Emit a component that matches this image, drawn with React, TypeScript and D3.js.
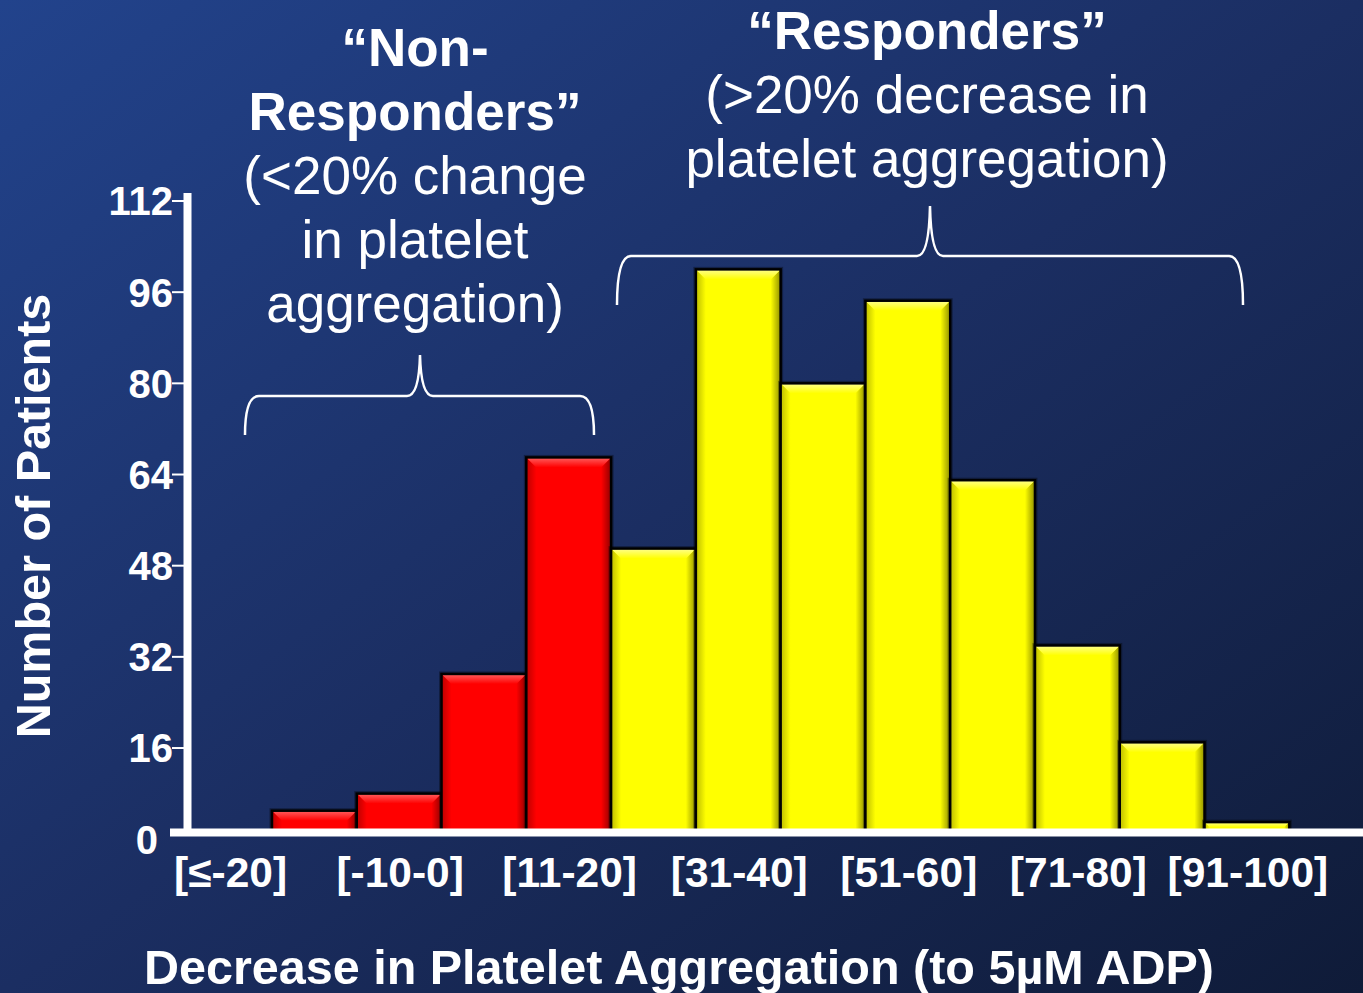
import React from "react";
import * as d3 from "d3";

const categories = [
  "[≤-20]", "[-19--11]", "[-10-0]", "[1-10]", "[11-20]", "[21-30]", "[31-40]",
  "[41-50]", "[51-60]", "[61-70]", "[71-80]", "[81-90]", "[91-100]",
];
const patients = [0, 5, 8, 29, 67, 51, 100, 80, 94.5, 63, 34, 17, 3];
const nonResponderBins = ["[≤-20]", "[-19--11]", "[-10-0]", "[1-10]", "[11-20]"];
const xTickLabels = ["[≤-20]", "[-10-0]", "[11-20]", "[31-40]", "[51-60]", "[71-80]", "[91-100]"];
const yTicks = [0, 16, 32, 48, 64, 80, 96, 112];
const leftNote = ["“Non-", "Responders”", "(<20% change", "in platelet", "aggregation)"];
const rightNote = ["“Responders”", "(>20% decrease in", "platelet aggregation)"];

const W = 1363;
const H = 993;
const FONT = "'Liberation Sans', Arial, Helvetica, sans-serif";

export default function App() {
  const x = d3.scaleBand<string>().domain(categories).range([187.2, 1289.3]).padding(0);
  const y = d3.scaleLinear().domain([0, 112]).range([839.2, 201]);
  const axisY = 832.5;
  const bev = 10;

  const bracePath = (x0: number, x1: number, yb: number, yh: number, yt: number, xm: number) => {
    const r = 14;
    return `M${x0},${yb} Q${x0},${yh} ${x0 + r},${yh} L${xm - 13},${yh} Q${xm - 1},${yh} ${xm},${yt} Q${xm + 1},${yh} ${xm + 13},${yh} L${x1 - r},${yh} Q${x1},${yh} ${x1},${yb}`;
  };

  return (
    <svg
      width={W}
      height={H}
      style={{ position: "absolute", left: 0, top: 0, display: "block" }}
      fontFamily={FONT}
    >
      <defs>
        <linearGradient id="bg" x1="0" y1="0" x2="1" y2="1">
          <stop offset="0" stopColor="#22438c" />
          <stop offset="0.5" stopColor="#1b2e62" />
          <stop offset="1" stopColor="#0f1b38" />
        </linearGradient>
        {[
          ["red", "#ff0000", "#ff6060", "#900000"],
          ["yel", "#ffff00", "#ffff90", "#909000"],
        ].map(([id, base, light, dark]) => (
          <React.Fragment key={id}>
            <linearGradient id={`${id}-l`} x1="0" y1="0" x2="1" y2="0">
              <stop offset="0" stopColor={dark} />
              <stop offset="1" stopColor={base} />
            </linearGradient>
            <linearGradient id={`${id}-r`} x1="0" y1="0" x2="1" y2="0">
              <stop offset="0" stopColor={base} />
              <stop offset="1" stopColor={dark} />
            </linearGradient>
            <linearGradient id={`${id}-t`} x1="0" y1="0" x2="0" y2="1">
              <stop offset="0" stopColor={light} />
              <stop offset="1" stopColor={base} />
            </linearGradient>
          </React.Fragment>
        ))}
      </defs>
      <rect x={0} y={0} width={W} height={H} fill="url(#bg)" />

      {/* bars */}
      {categories.map((c, i) => {
        const v = patients[i];
        if (v <= 0) return null;
        const x0 = x(c)!;
        const x1 = x0 + x.bandwidth();
        const y0 = y(v);
        const y1 = axisY;
        const id = nonResponderBins.includes(c) ? "red" : "yel";
        const base = id === "red" ? "#ff0000" : "#ffff00";
        const b = Math.min(bev, (y1 - y0) / 2);
        return (
          <g key={c}>
            <rect x={x0} y={y0} width={x1 - x0} height={y1 - y0} fill="none" stroke="#000" strokeOpacity={0.35} strokeWidth={5} />
            <rect x={x0} y={y0} width={x1 - x0} height={y1 - y0} fill={base} />
            <polygon points={`${x0},${y0} ${x0 + b},${y0 + b} ${x0 + b},${y1} ${x0},${y1}`} fill={`url(#${id}-l)`} opacity={0.6} />
            <polygon points={`${x1},${y0} ${x1 - b},${y0 + b} ${x1 - b},${y1} ${x1},${y1}`} fill={`url(#${id}-r)`} />
            <polygon points={`${x0},${y0} ${x1},${y0} ${x1 - b},${y0 + b} ${x0 + b},${y0 + b}`} fill={`url(#${id}-t)`} />
            <rect x={x0} y={y0} width={x1 - x0} height={y1 - y0} fill="none" stroke="#000" strokeWidth={2.5} />
          </g>
        );
      })}

      {/* y axis */}
      <line x1={187.5} x2={187.5} y1={193} y2={axisY} stroke="#fff" strokeWidth={8} />
      {yTicks.map((t) => (
        <g key={t}>
          {t > 0 && <line x1={172} x2={184} y1={y(t)} y2={y(t)} stroke="#fff" strokeWidth={2} />}
          <text
            x={t > 0 ? 173 : 158}
            y={y(t)}
            dy="0.36em"
            textAnchor="end"
            fontWeight="bold"
            fontSize={40}
            fill="#fff"
          >
            {t}
          </text>
        </g>
      ))}

      {/* x axis */}
      <line x1={170} x2={W} y1={axisY} y2={axisY} stroke="#fff" strokeWidth={8} />
      {xTickLabels.map((c) => (
        <text
          key={c}
          x={x(c)! + x.bandwidth() / 2 + 1}
          y={887}
          textAnchor="middle"
          fontWeight="bold"
          fontSize={42.5}
          fill="#fff"
        >
          {c}
        </text>
      ))}

      <text x={679} y={984} textAnchor="middle" fontWeight="bold" fontSize={48.5} fill="#fff">
        Decrease in Platelet Aggregation (to 5µM ADP)
      </text>
      <text
        transform="translate(50,516) rotate(-90)"
        textAnchor="middle"
        fontWeight="bold"
        fontSize={48.5}
        fill="#fff"
      >
        Number of Patients
      </text>

      {/* annotations */}
      {leftNote.map((s, i) => (
        <text
          key={s}
          x={415}
          y={66 + i * 64}
          textAnchor="middle"
          fontWeight={i < 2 ? "bold" : "normal"}
          fontSize={53}
          fill="#fff"
        >
          {s}
        </text>
      ))}
      {rightNote.map((s, i) => (
        <text
          key={s}
          x={927}
          y={49 + i * 64}
          textAnchor="middle"
          fontWeight={i < 1 ? "bold" : "normal"}
          fontSize={53}
          fill="#fff"
        >
          {s}
        </text>
      ))}

      <path d={bracePath(245, 594, 435, 396, 355, 420)} fill="none" stroke="#fff" strokeWidth={2.5} />
      <path d={bracePath(617, 1243, 305, 256, 206, 930)} fill="none" stroke="#fff" strokeWidth={2.5} />
    </svg>
  );
}
